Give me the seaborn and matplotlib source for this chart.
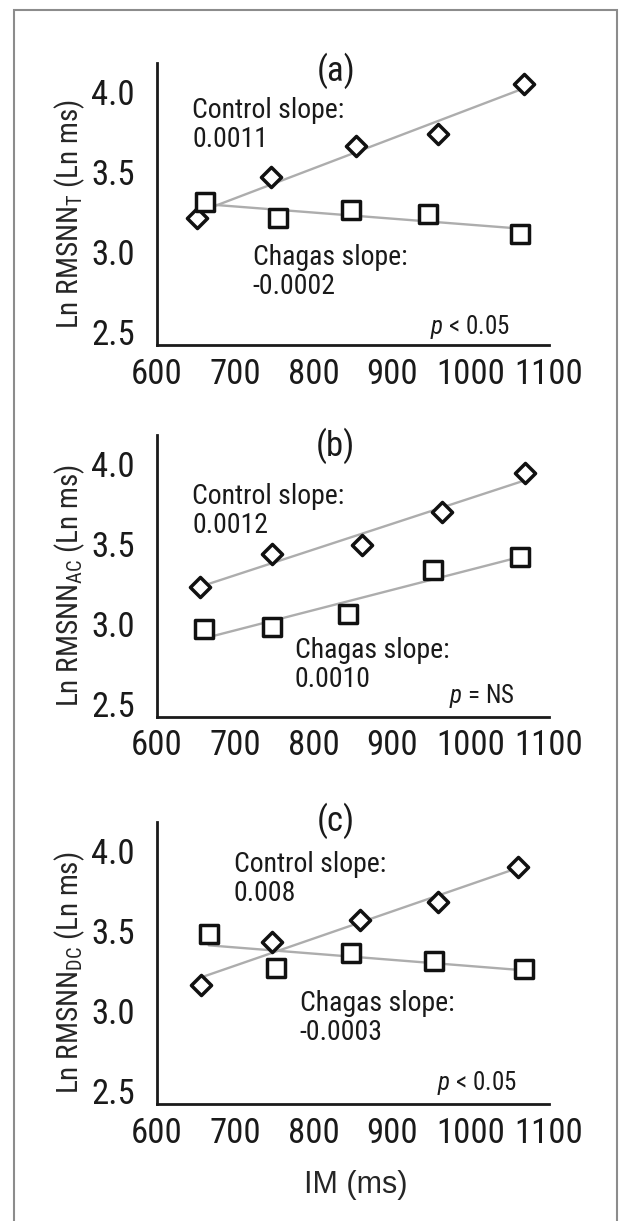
import numpy as np
import matplotlib
matplotlib.use("Agg")
import matplotlib.pyplot as plt
import seaborn as sns
import pandas as pd
from matplotlib.patches import Rectangle

sns.set_style("white")
plt.rcParams['font.family'] = ['Roboto Condensed', 'Archivo Narrow', 'Liberation Sans', 'DejaVu Sans']
plt.rcParams['mathtext.fontset'] = 'custom'
plt.rcParams['mathtext.rm'] = 'Roboto Condensed'
plt.rcParams['mathtext.it'] = 'Roboto Condensed:italic'
plt.rcParams['text.color'] = '#1a1a1a'

im_ticks = [600, 700, 800, 900, 1000, 1100]
ln_ticks = [2.5, 3.0, 3.5, 4.0]

# (a) RMSNN_T
ctrl_t_im = [651, 746, 854, 958, 1068]
ctrl_t_ln = [3.21, 3.47, 3.66, 3.74, 4.05]
chag_t_im = [661, 754, 848, 946, 1063]
chag_t_ln = [3.31, 3.21, 3.26, 3.24, 3.11]

# (b) RMSNN_AC
ctrl_ac_im = [655, 747, 861, 963, 1070]
ctrl_ac_ln = [3.23, 3.44, 3.49, 3.70, 3.94]
chag_ac_im = [660, 747, 844, 952, 1063]
chag_ac_ln = [2.97, 2.98, 3.06, 3.34, 3.42]

# (c) RMSNN_DC
ctrl_dc_im = [656, 747, 859, 959, 1060]
ctrl_dc_ln = [3.16, 3.43, 3.57, 3.68, 3.90]
chag_dc_im = [666, 752, 848, 954, 1068]
chag_dc_ln = [3.48, 3.27, 3.36, 3.31, 3.26]

panel_tags = ['(a)', '(b)', '(c)']
subscripts = ['T', 'AC', 'DC']
ctrl_slopes = ['0.0011', '0.0012', '0.008']
chag_slopes = ['-0.0002', '0.0010', '-0.0003']
p_texts = [r'$\mathit{p}$ < 0.05', r'$\mathit{p}$ = NS', r'$\mathit{p}$ < 0.05']

panels = [
    (ctrl_t_im, ctrl_t_ln, chag_t_im, chag_t_ln),
    (ctrl_ac_im, ctrl_ac_ln, chag_ac_im, chag_ac_ln),
    (ctrl_dc_im, ctrl_dc_ln, chag_dc_im, chag_dc_ln),
]

# text placement per panel (data coords)
tag_y = [4.13, 4.11, 4.19]
ctrl_txt = [(645, 3.97), (645, 3.88), (698, 4.00)]
chag_txt = [(722, 3.05), (776, 2.92), (782, 3.13)]
p_txt = [(948, 2.53), (973, 2.55), (957, 2.55)]
bottoms = [0.7174, 0.4128, 0.0958]

fig = plt.figure(figsize=(6.2, 12.21), dpi=100)
fig.patches.append(Rectangle((14 / 620, -0.02), 603 / 620, 1.02 - 10 / 1221,
                             transform=fig.transFigure, fill=False,
                             ec='#8c8c8c', lw=1.5))

for k, (cx, cy, hx, hy) in enumerate(panels):
    ax = fig.add_axes([0.2532, bottoms[k], 0.6322, 0.231])
    ctrl = pd.DataFrame({'IM': cx, 'Ln': cy})
    chag = pd.DataFrame({'IM': hx, 'Ln': hy})
    line_kws = dict(color='#adadad', lw=1.7, zorder=1)
    sns.regplot(data=ctrl, x='IM', y='Ln', scatter=False, ci=None, ax=ax, line_kws=line_kws)
    sns.regplot(data=chag, x='IM', y='Ln', scatter=False, ci=None, ax=ax, line_kws=line_kws)
    sns.scatterplot(data=ctrl, x='IM', y='Ln', marker='D', s=105, color='white',
                    edgecolor='#111111', linewidth=2.5, ax=ax, zorder=3)
    sns.scatterplot(data=chag, x='IM', y='Ln', marker='s', s=150, color='white',
                    edgecolor='#111111', linewidth=2.5, ax=ax, zorder=3)

    ax.set_xlim(600, 1100)
    ax.set_ylim(2.42, 4.18)
    ax.set_xticks(im_ticks)
    ax.set_yticks(ln_ticks)
    ax.set_yticklabels([f'{v:.1f}' for v in ln_ticks])
    for side in ['top', 'right']:
        ax.spines[side].set_visible(False)
    for side in ['left', 'bottom']:
        ax.spines[side].set_linewidth(2)
        ax.spines[side].set_color('#1a1a1a')
    ax.tick_params(axis='x', length=5, width=2, color='#1a1a1a', labelsize=25,
                   pad=4, labelcolor='#1a1a1a')
    ax.tick_params(axis='y', length=0, labelsize=25, pad=16, labelcolor='#1a1a1a')

    ax.set_ylabel(r'Ln RMSNN$_\mathregular{' + subscripts[k] + r'}$ (Ln ms)', fontsize=21)
    ax.yaxis.label.set_va('center')
    ax.yaxis.set_label_coords(-0.222, 0.465)
    if k == 2:
        ax.set_xlabel('IM (ms)', fontsize=22, family=['Liberation Sans', 'DejaVu Sans'])
        ax.xaxis.label.set_va('center')
        ax.xaxis.set_label_coords(0.508, -0.287)
    else:
        ax.set_xlabel('')

    ax.text(828, tag_y[k], panel_tags[k], ha='center', va='center', fontsize=25, clip_on=False)
    ax.text(*ctrl_txt[k], 'Control slope:\n' + ctrl_slopes[k], ha='left', va='top',
            fontsize=20, linespacing=1.1)
    ax.text(*chag_txt[k], 'Chagas slope:\n' + chag_slopes[k], ha='left', va='top',
            fontsize=20, linespacing=1.1)
    ax.text(*p_txt[k], p_texts[k], ha='left', va='center', fontsize=18)

plt.savefig('out.png', dpi=100)
